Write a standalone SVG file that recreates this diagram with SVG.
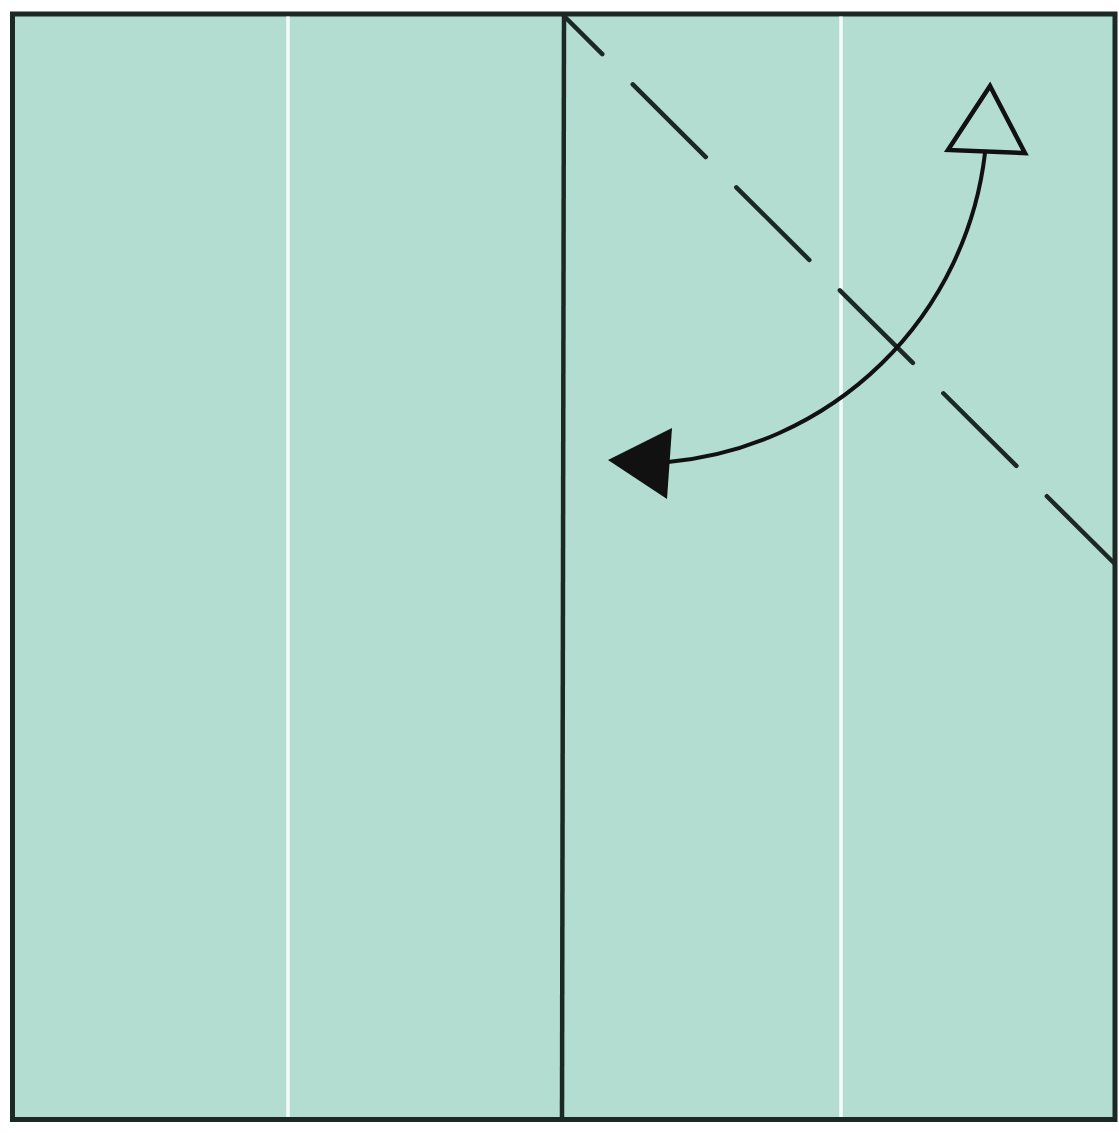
<svg xmlns="http://www.w3.org/2000/svg" width="1119" height="1133" viewBox="0 0 1119 1133">
  <style>
    .paper { fill: #b3ddd0; stroke: #1c2824; stroke-width: 5; }
    .crease { stroke: #f4fbf8; stroke-width: 3.5; fill: none; }
    .edge { stroke: #1c2824; stroke-width: 4.5; fill: none; }
    .valley { stroke: #1c2824; stroke-width: 4.5; fill: none; stroke-dasharray: 103 43; stroke-dashoffset: 49; stroke-linecap: round; }
    .arrow { stroke: #111; stroke-width: 4; fill: none; }
  </style>
  <rect width="1119" height="1133" fill="#ffffff"/>
  <g id="paper">
    <rect class="paper" x="12.5" y="14" width="1102.5" height="1105.5"/>
  </g>
  <g id="creases">
    <line class="crease" x1="288" y1="16.5" x2="288" y2="1117"/>
    <line class="crease" x1="841" y1="16.5" x2="841" y2="1117"/>
  </g>
  <g id="flap-edge">
    <line class="edge" x1="564" y1="14" x2="562" y2="1119"/>
  </g>
  <g id="connectors">
    <line class="valley" x1="564" y1="16" x2="1114" y2="563"/>
    <path class="arrow" d="M985,153 A351,351 0 0 1 668,462"/>
    <polygon points="990,86 948,150 1025,153" fill="#b3ddd0" stroke="#111" stroke-width="4.5" stroke-linejoin="miter"/>
    <polygon points="608,460 672,428 667,499" fill="#111"/>
  </g>
</svg>
